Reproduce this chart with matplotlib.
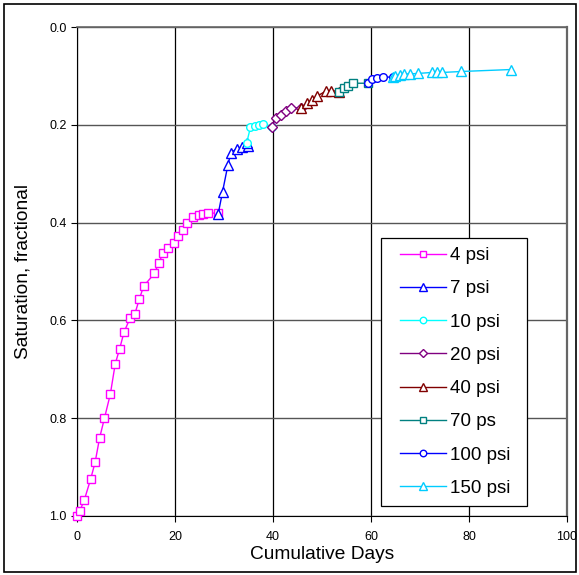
import matplotlib
matplotlib.use("Agg")
import matplotlib.pyplot as plt
from matplotlib.patches import Rectangle

plt.rcParams['font.family'] = ['Liberation Sans', 'DejaVu Sans']

labels = ["4 psi", "7 psi", "10 psi", "20 psi", "40 psi", "70 ps", "100 psi", "150 psi"]
colors = ["#FF00FF", "#0000FF", "#00FFFF", "#800080", "#800000", "#008080", "#0000FF", "#00CCFF"]
markers = ["s", "^", "o", "D", "^", "s", "o", "^"]
msizes = [5.5, 6.5, 5.5, 5.0, 6.5, 5.5, 5.5, 6.5]

x_4 = [0.0, 0.6, 1.5, 2.8, 3.7, 4.6, 5.6, 6.8, 7.8, 8.7, 9.6, 10.8, 11.8, 12.7, 13.6,
       15.8, 16.7, 17.6, 18.5, 19.8, 20.7, 21.6, 22.4, 23.7, 24.8, 25.8, 26.8, 28.7]
y_4 = [1.0, 0.989, 0.967, 0.924, 0.89, 0.841, 0.80, 0.751, 0.689, 0.658, 0.624, 0.596,
       0.587, 0.557, 0.53, 0.504, 0.482, 0.462, 0.452, 0.442, 0.427, 0.415, 0.40, 0.389,
       0.385, 0.382, 0.380, 0.381]
x_7 = [28.8, 29.7, 30.8, 31.4, 32.6, 33.6, 34.8, 34.6]
y_7 = [0.383, 0.337, 0.282, 0.257, 0.249, 0.245, 0.243, 0.238]
x_10 = [34.6, 35.4, 36.3, 37.2, 37.9, 39.7]
y_10 = [0.238, 0.205, 0.202, 0.200, 0.199, 0.204]
x_20 = [39.7, 40.6, 41.6, 42.6, 43.6, 45.7]
y_20 = [0.204, 0.187, 0.179, 0.172, 0.165, 0.166]
x_40 = [45.7, 46.9, 47.9, 48.9, 50.8, 51.8, 53.5]
y_40 = [0.166, 0.156, 0.149, 0.142, 0.131, 0.130, 0.132]
x_70 = [53.5, 54.5, 55.4, 56.4, 59.4]
y_70 = [0.132, 0.125, 0.120, 0.115, 0.115]
x_100 = [59.4, 60.3, 61.3, 62.4, 64.4]
y_100 = [0.115, 0.107, 0.104, 0.103, 0.102]
x_150 = [64.4, 64.9, 65.9, 66.8, 68.0, 69.5, 72.4, 73.4, 74.5, 78.4, 88.5]
y_150 = [0.102, 0.100, 0.098, 0.096, 0.096, 0.095, 0.093, 0.093, 0.093, 0.091, 0.087]

xs = [x_4, x_7, x_10, x_20, x_40, x_70, x_100, x_150]
ys = [y_4, y_7, y_10, y_20, y_40, y_70, y_100, y_150]

x_ticks = [0, 20, 40, 60, 80, 100]
y_ticks = [0.0, 0.2, 0.4, 0.6, 0.8, 1.0]

W, H = 579, 575
fig = plt.figure(figsize=(W/100, H/100), dpi=100)
ax = fig.add_axes([77/W, 1-516/H, (567-77)/W, (516-27)/H])

for x, y, c, m, ms, lab in zip(xs, ys, colors, markers, msizes, labels):
    ax.plot(x, y, color=c, marker=m, markersize=ms, markerfacecolor="white",
            markeredgecolor=c, markeredgewidth=1.0, linewidth=1.0, label=lab,
            zorder=3, clip_on=False)

ax.set_xlim(0, 100)
ax.set_ylim(1.0, 0.0)
ax.set_xticks(x_ticks)
ax.set_xticklabels([str(t) for t in x_ticks])
ax.set_yticks(y_ticks)
ax.set_yticklabels([f"{t:.1f}" for t in y_ticks])
ax.tick_params(axis='both', direction='out', length=4, width=0.8, labelsize=9, colors='black')
ax.tick_params(axis='x', pad=7)
ax.xaxis.grid(True, color='black', linewidth=0.9)
ax.yaxis.grid(True, color='#555555', linewidth=1.0)
ax.set_axisbelow(True)

ax.spines['left'].set_color('black')
ax.spines['bottom'].set_color('black')
ax.spines['top'].set_color('#666666')
ax.spines['right'].set_color('#666666')
ax.spines['right'].set_linewidth(1.6)
ax.spines['top'].set_linewidth(1.2)

ax.set_xlabel("Cumulative Days", fontsize=13.8, labelpad=2)
ax.set_ylabel("Saturation, fractional", fontsize=13.8, labelpad=13)

# legend frame drawn separately (inside the axes, below the legend) for exact control
frame = Rectangle((381/W, 1-506/H), (527-381)/W, (506-238)/H,
                  transform=fig.transFigure, facecolor='white',
                  edgecolor='black', linewidth=0.9, zorder=4, clip_on=False)
ax.add_artist(frame)
leg = ax.legend(loc='upper left', bbox_to_anchor=(400/W, 1-247/H),
                bbox_transform=fig.transFigure, fontsize=13.5, frameon=False,
                handlelength=2.45, handletextpad=0.22, labelspacing=0.86,
                borderpad=0, borderaxespad=0, markerscale=0.85)
leg.set_zorder(5)

fig.patches.append(Rectangle((4/W, 1-572/H), (576-4)/W, (572-4)/H,
                             transform=fig.transFigure, fill=False,
                             edgecolor='black', linewidth=1.2))

fig.savefig("out.png", dpi=100)
